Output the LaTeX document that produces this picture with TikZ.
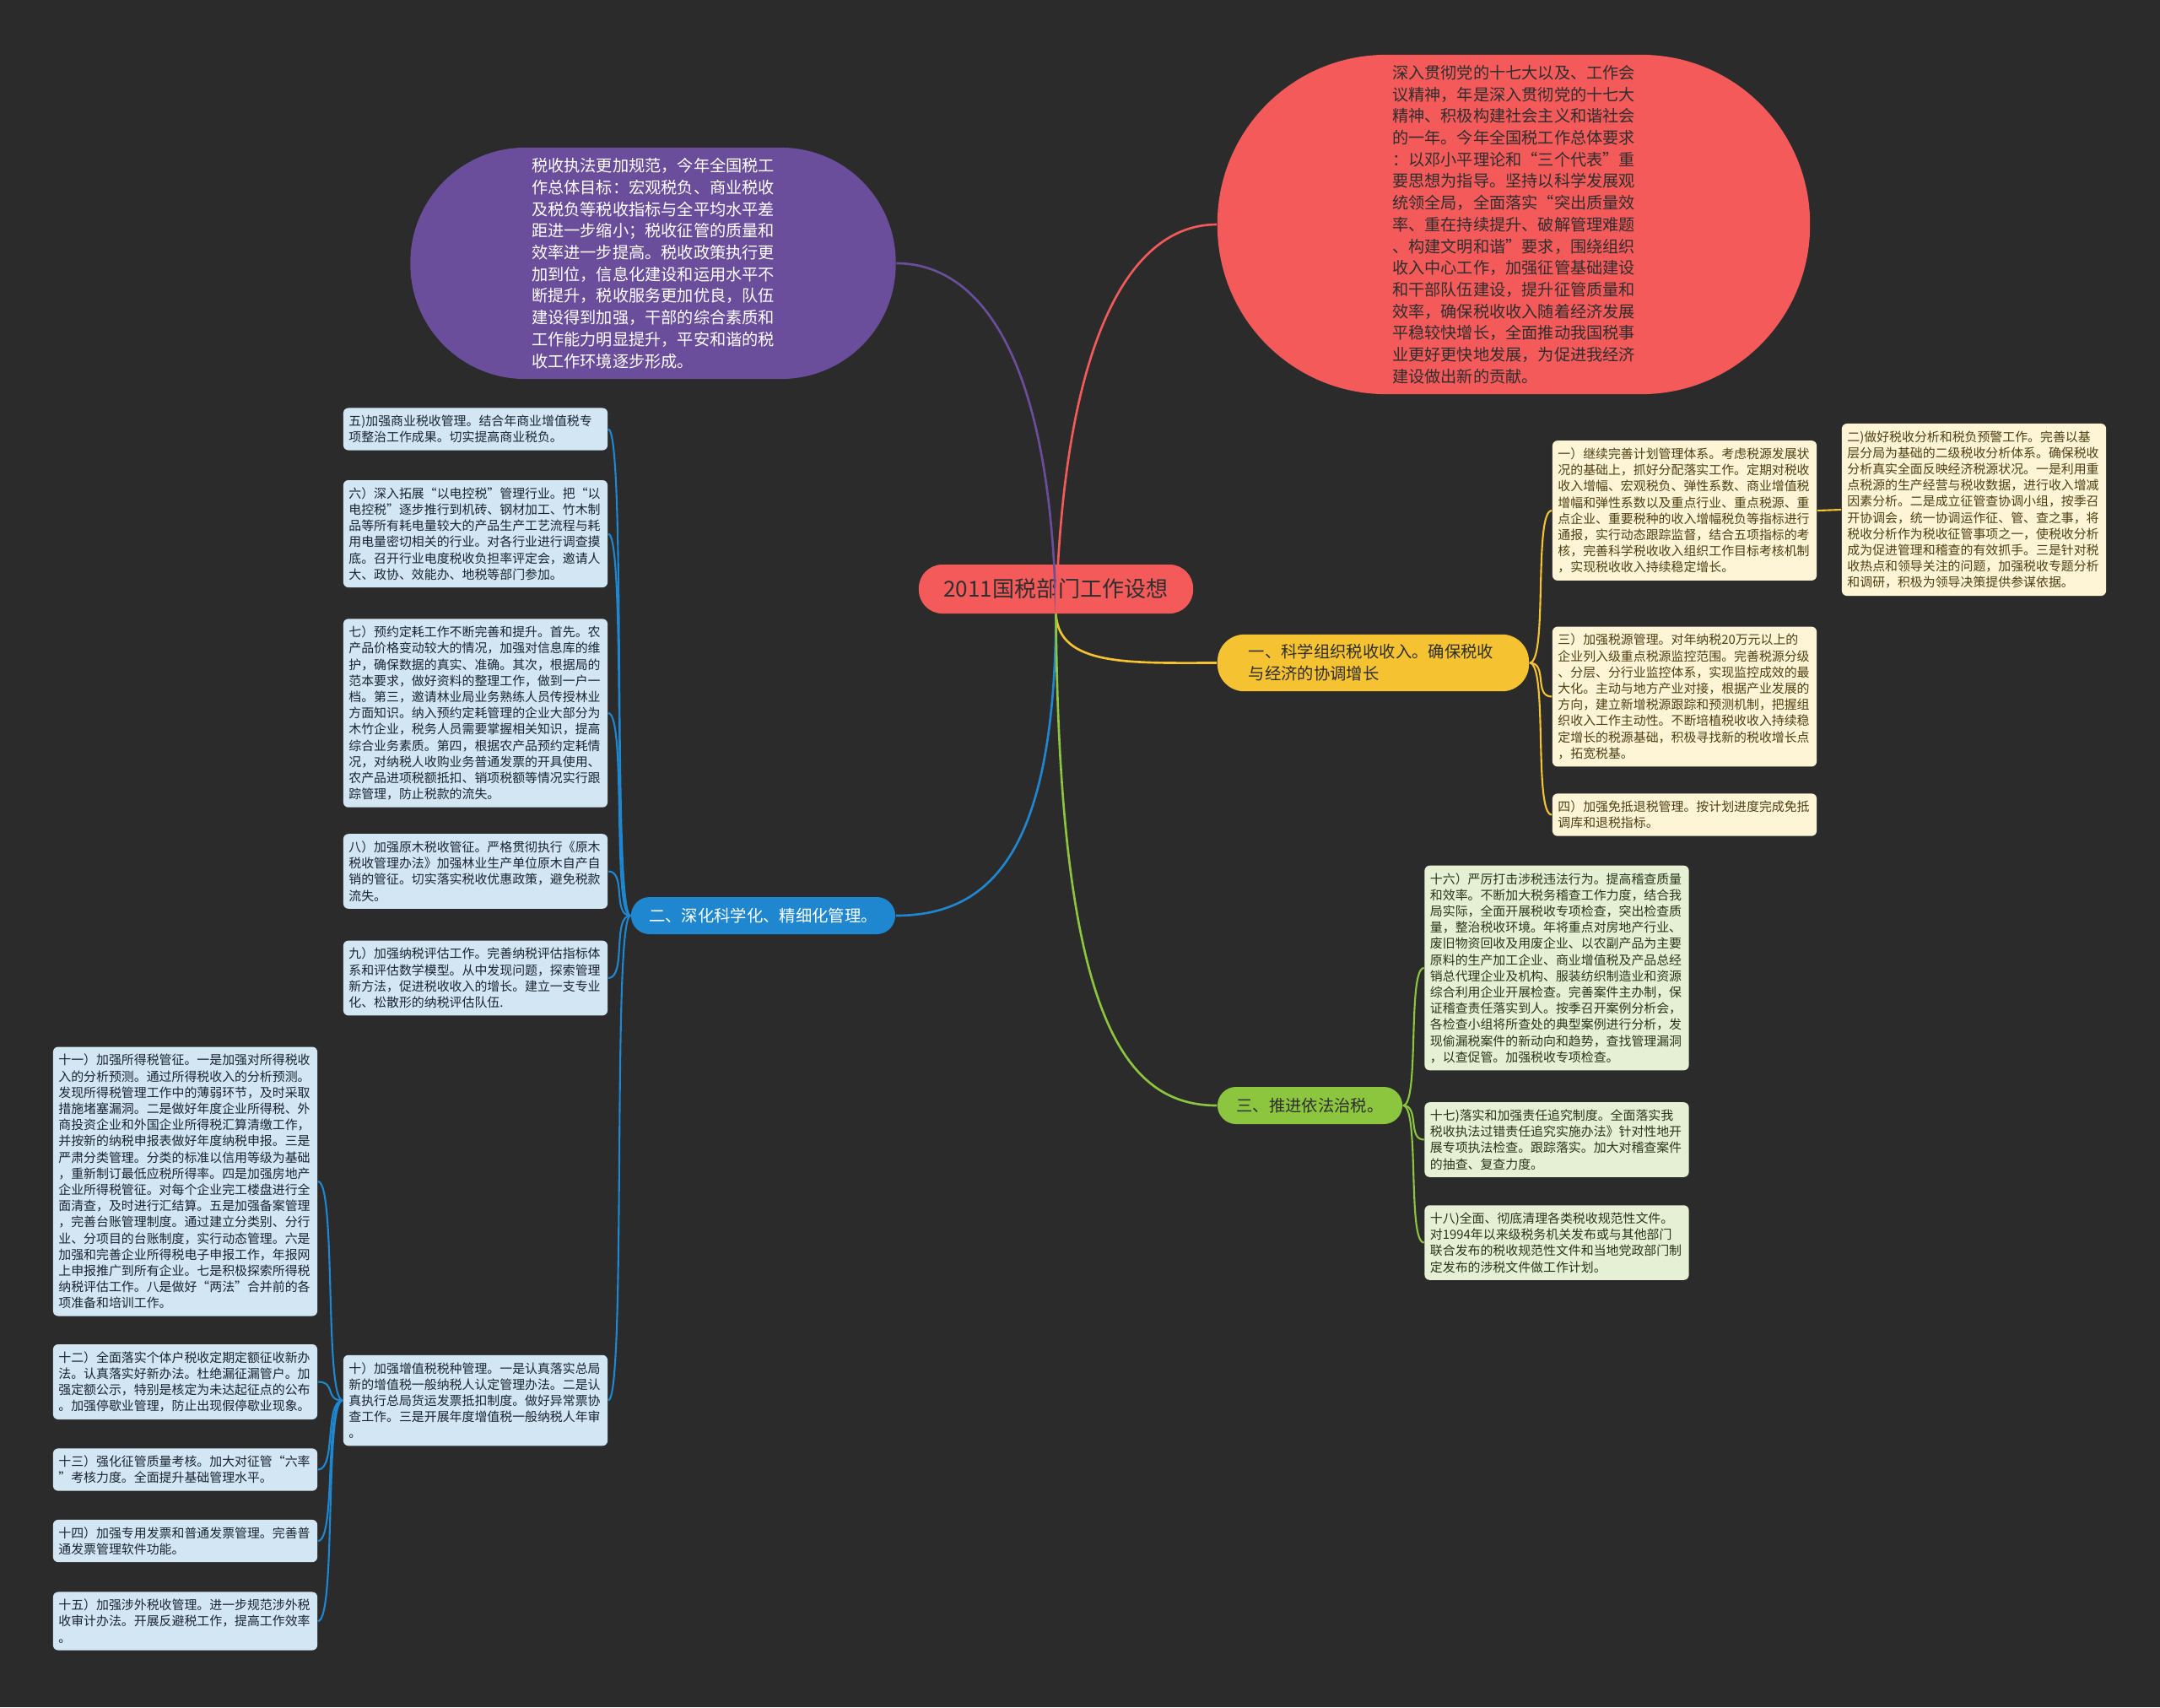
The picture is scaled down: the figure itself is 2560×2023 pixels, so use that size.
\documentclass[tikz,border=0pt]{standalone}
\usepackage{fontspec}
\setmainfont{Noto Sans CJK SC}
\usepackage{tikz}
\usetikzlibrary{positioning}
\usepackage{xcolor}
\definecolor{bgcol}{HTML}{2B2B2B}
\definecolor{purcol}{HTML}{6A4E9B}
\definecolor{redcol}{HTML}{F45A5A}
\definecolor{yelcol}{HTML}{F5C232}
\definecolor{blucol}{HTML}{1F87CF}
\definecolor{grncol}{HTML}{8CC63E}
\definecolor{boxyel}{HTML}{FDF5D5}
\definecolor{boxblu}{HTML}{D3E6F3}
\definecolor{boxgrn}{HTML}{E6F0D5}
\definecolor{txtyel}{HTML}{4F3F14}
\definecolor{txtblu}{HTML}{1A2530}
\definecolor{txtgrn}{HTML}{2A3518}
\definecolor{txtdark}{HTML}{2E2E2E}

\begin{document}
\begin{tikzpicture}[
          x=0.01cm, y=-0.01cm,
          every node/.style={font=\fontsize{4.24pt}{5.46pt}\selectfont},
          bigtxt/.style={font=\fontsize{5.46pt}{7.31pt}\selectfont, align=left},
          brtxt/.style={font=\fontsize{5.5pt}{7.4pt}\selectfont},
          leaf/.style={rounded corners=0.06cm, text width=3.0cm, align=left, inner xsep=0.065cm, inner ysep=0.085cm},
          yleaf/.style={leaf, fill=boxyel, text=txtyel},
          bleaf/.style={leaf, fill=boxblu, text=txtblu},
          gleaf/.style={leaf, fill=boxgrn, text=txtgrn},
          medge/.style={line width=0.75pt},
          sedge/.style={line width=0.6pt},
        ]
        \fill[bgcol] (0,0) rectangle (2560,2023);
        \useasboundingbox (0,0) rectangle (2560,2023);

        \node[fill=redcol, text=txtdark, rounded corners=0.28cm, minimum width=3.25cm, minimum height=0.58cm,
              font=\fontsize{7.4pt}{8pt}\selectfont] (ctr) at (1251.5,698) {2011国税部门工作设想};

        \node[bigtxt, fill=purcol, text=white, rounded corners=1.36cm, minimum width=5.75cm, minimum height=2.74cm] (pur) at (774,312)
          {税收执法更加规范，今年全国税工\\作总体目标：宏观税负、商业税收\\及税负等税收指标与全平均水平差\\距进一步缩小；税收征管的质量和\\效率进一步提高。税收政策执行更\\加到位，信息化建设和运用水平不\\断提升，税收服务更加优良，队伍\\建设得到加强，干部的综合素质和\\工作能力明显提升，平安和谐的税\\收工作环境逐步形成。};
        \node[bigtxt, fill=redcol, text=txtdark, rounded corners=2.0cm, minimum width=7.02cm, minimum height=4.02cm] (red) at (1794,266)
          {深入贯彻党的十七大以及、工作会\\议精神，年是深入贯彻党的十七大\\精神、积极构建社会主义和谐社会\\的一年。今年全国税工作总体要求\\：以邓小平理论和“三个代表”重\\要思想为指导。坚持以科学发展观\\统领全局，全面落实“突出质量效\\率、重在持续提升、破解管理难题\\、构建文明和谐”要求，围绕组织\\收入中心工作，加强征管基础建设\\和干部队伍建设，提升征管质量和\\效率，确保税收收入随着经济发展\\平稳较快增长，全面推动我国税事\\业更好更快地发展，为促进我经济\\建设做出新的贡献。};

        \node[brtxt, fill=yelcol, text=txtdark, rounded corners=0.32cm, minimum width=3.69cm, minimum height=0.65cm,
              text width=2.95cm, align=left] (br1) at (1627.5,785.5) {一、科学组织税收收入。确保税收\\与经济的协调增长};
        \node[brtxt, fill=blucol, text=white, rounded corners=0.22cm, minimum width=3.13cm, minimum height=0.44cm] (br2) at (904.5,1085)
          {二、深化科学化、精细化管理。};
        \node[brtxt, fill=grncol, text=txtdark, rounded corners=0.22cm, minimum width=2.19cm, minimum height=0.44cm] (br3) at (1552.5,1310)
          {三、推进依法治税。};

        \node[yleaf] (n1) at (1996.5,605)
          {一）继续完善计划管理体系。考虑税源发展状\\况的基础上，抓好分配落实工作。定期对税收\\收入增幅、宏观税负、弹性系数、商业增值税\\增幅和弹性系数以及重点行业、重点税源、重\\点企业、重要税种的收入增幅税负等指标进行\\通报，实行动态跟踪监督，结合五项指标的考\\核，完善科学税收收入组织工作目标考核机制\\，实现税收收入持续稳定增长。};
        \node[yleaf] (n2) at (2339.5,604)
          {二)做好税收分析和税负预警工作。完善以基\\层分局为基础的二级税收分析体系。确保税收\\分析真实全面反映经济税源状况。一是利用重\\点税源的生产经营与税收数据，进行收入增减\\因素分析。二是成立征管查协调小组，按季召\\开协调会，统一协调运作征、管、查之事，将\\税收分析作为税收征管事项之一，使税收分析\\成为促进管理和稽查的有效抓手。三是针对税\\收热点和领导关注的问题，加强税收专题分析\\和调研，积极为领导决策提供参谋依据。};
        \node[yleaf] (n3) at (1996.5,825.5)
          {三）加强税源管理。对年纳税20万元以上的\\企业列入级重点税源监控范围。完善税源分级\\、分层、分行业监控体系，实现监控成效的最\\大化。主动与地方产业对接，根据产业发展的\\方向，建立新增税源跟踪和预测机制，把握组\\织收入工作主动性。不断培植税收收入持续稳\\定增长的税源基础，积极寻找新的税收增长点\\，拓宽税基。};
        \node[yleaf] (n4) at (1996.5,965.5)
          {四）加强免抵退税管理。按计划进度完成免抵\\调库和退税指标。};

        \node[bleaf] (n5) at (563.5,508.5)
          {五)加强商业税收管理。结合年商业增值税专\\项整治工作成果。切实提高商业税负。};
        \node[bleaf] (n6) at (563.5,632.5)
          {六）深入拓展“以电控税”管理行业。把“以\\电控税”逐步推行到机砖、钢材加工、竹木制\\品等所有耗电量较大的产品生产工艺流程与耗\\用电量密切相关的行业。对各行业进行调查摸\\底。召开行业电度税收负担率评定会，邀请人\\大、政协、效能办、地税等部门参加。};
        \node[bleaf] (n7) at (563.5,845)
          {七）预约定耗工作不断完善和提升。首先。农\\产品价格变动较大的情况，加强对信息库的维\\护，确保数据的真实、准确。其次，根据局的\\范本要求，做好资料的整理工作，做到一户一\\档。第三，邀请林业局业务熟练人员传授林业\\方面知识。纳入预约定耗管理的企业大部分为\\木竹企业，税务人员需要掌握相关知识，提高\\综合业务素质。第四，根据农产品预约定耗情\\况，对纳税人收购业务普通发票的开具使用、\\农产品进项税额抵扣、销项税额等情况实行跟\\踪管理，防止税款的流失。};
        \node[bleaf] (n8) at (563.5,1032.5)
          {八）加强原木税收管征。严格贯彻执行《原木\\税收管理办法》加强林业生产单位原木自产自\\销的管征。切实落实税收优惠政策，避免税款\\流失。};
        \node[bleaf] (n9) at (563.5,1159)
          {九）加强纳税评估工作。完善纳税评估指标体\\系和评估数学模型。从中发现问题，探索管理\\新方法，促进税收收入的增长。建立一支专业\\化、松散形的纳税评估队伍.};
        \node[bleaf] (n10) at (563.5,1659.5)
          {十）加强增值税税种管理。一是认真落实总局\\新的增值税一般纳税人认定管理办法。二是认\\真执行总局货运发票抵扣制度。做好异常票协\\查工作。三是开展年度增值税一般纳税人年审\\。};

        \node[bleaf] (n11) at (219.5,1400)
          {十一）加强所得税管征。一是加强对所得税收\\入的分析预测。通过所得税收入的分析预测。\\发现所得税管理工作中的薄弱环节，及时采取\\措施堵塞漏洞。二是做好年度企业所得税、外\\商投资企业和外国企业所得税汇算清缴工作，\\并按新的纳税申报表做好年度纳税申报。三是\\严肃分类管理。分类的标准以信用等级为基础\\，重新制订最低应税所得率。四是加强房地产\\企业所得税管征。对每个企业完工楼盘进行全\\面清查，及时进行汇结算。五是加强备案管理\\，完善台账管理制度。通过建立分类别、分行\\业、分项目的台账制度，实行动态管理。六是\\加强和完善企业所得税电子申报工作，年报网\\上申报推广到所有企业。七是积极探索所得税\\纳税评估工作。八是做好“两法”合并前的各\\项准备和培训工作。};
        \node[bleaf] (n12) at (219.5,1637.5)
          {十二）全面落实个体户税收定期定额征收新办\\法。认真落实好新办法。杜绝漏征漏管户。加\\强定额公示，特别是核定为未达起征点的公布\\。加强停歇业管理，防止出现假停歇业现象。};
        \node[bleaf] (n13) at (219.5,1741.5)
          {十三）强化征管质量考核。加大对征管“六率\\”考核力度。全面提升基础管理水平。};
        \node[bleaf] (n14) at (219.5,1826)
          {十四）加强专用发票和普通发票管理。完善普\\通发票管理软件功能。};
        \node[bleaf] (n15) at (219.5,1921)
          {十五）加强涉外税收管理。进一步规范涉外税\\收审计办法。开展反避税工作，提高工作效率\\。};

        \node[gleaf] (n16) at (1845,1147)
          {十六）严厉打击涉税违法行为。提高稽查质量\\和效率。不断加大税务稽查工作力度，结合我\\局实际，全面开展税收专项检查，突出检查质\\量，整治税收环境。年将重点对房地产行业、\\废旧物资回收及用废企业、以农副产品为主要\\原料的生产加工企业、商业增值税及产品总经\\销总代理企业及机构、服装纺织制造业和资源\\综合利用企业开展检查。完善案件主办制，保\\证稽查责任落实到人。按季召开案例分析会，\\各检查小组将所查处的典型案例进行分析，发\\现偷漏税案件的新动向和趋势，查找管理漏洞\\，以查促管。加强税收专项检查。};
        \node[gleaf] (n17) at (1845,1350.5)
          {十七)落实和加强责任追究制度。全面落实我\\税收执法过错责任追究实施办法》针对性地开\\展专项执法检查。跟踪落实。加大对稽查案件\\的抽查、复查力度。};
        \node[gleaf] (n18) at (1845,1472.5)
          {十八)全面、彻底清理各类税收规范性文件。\\对1994年以来级税务机关发布或与其他部门\\联合发布的税收规范性文件和当地党政部门制\\定发布的涉税文件做工作计划。};

        \draw[medge, purcol] (ctr.south) .. controls (1245,400) and (1150,312) .. (pur.east);
        \draw[medge, redcol] (ctr.south) .. controls (1260,400) and (1340,266) .. (red.west);
        \draw[medge, yelcol] (ctr.south) .. controls (1255,790) and (1340,785.5) .. (br1.west);
        \draw[medge, blucol] (ctr.south) .. controls (1250,1000) and (1180,1085) .. (br2.east);
        \draw[medge, grncol] (ctr.south) .. controls (1255,1200) and (1330,1310) .. (br3.west);

        \draw[sedge, yelcol] (br1.east) .. controls +(22,0) and +(-22,0) .. (n1.west);
        \draw[sedge, yelcol] (br1.east) .. controls +(22,0) and +(-22,0) .. (n3.west);
        \draw[sedge, yelcol] (br1.east) .. controls +(22,0) and +(-22,0) .. (n4.west);
        \draw[sedge, yelcol] (n1.east) -- (n2.west);

        \draw[sedge, blucol] (br2.west) .. controls +(-22,0) and +(22,0) .. (n5.east);
        \draw[sedge, blucol] (br2.west) .. controls +(-22,0) and +(22,0) .. (n6.east);
        \draw[sedge, blucol] (br2.west) .. controls +(-22,0) and +(22,0) .. (n7.east);
        \draw[sedge, blucol] (br2.west) .. controls +(-22,0) and +(22,0) .. (n8.east);
        \draw[sedge, blucol] (br2.west) .. controls +(-22,0) and +(22,0) .. (n9.east);
        \draw[sedge, blucol] (br2.west) .. controls +(-22,0) and +(22,0) .. (n10.east);

        \draw[sedge, blucol] (n10.west) .. controls +(-22,0) and +(22,0) .. (n11.east);
        \draw[sedge, blucol] (n10.west) .. controls +(-22,0) and +(22,0) .. (n12.east);
        \draw[sedge, blucol] (n10.west) .. controls +(-22,0) and +(22,0) .. (n13.east);
        \draw[sedge, blucol] (n10.west) .. controls +(-22,0) and +(22,0) .. (n14.east);
        \draw[sedge, blucol] (n10.west) .. controls +(-22,0) and +(22,0) .. (n15.east);

        \draw[sedge, grncol] (br3.east) .. controls +(20,0) and +(-20,0) .. (n16.west);
        \draw[sedge, grncol] (br3.east) .. controls +(20,0) and +(-20,0) .. (n17.west);
        \draw[sedge, grncol] (br3.east) .. controls +(20,0) and +(-20,0) .. (n18.west);
      \end{tikzpicture}
\end{document}
